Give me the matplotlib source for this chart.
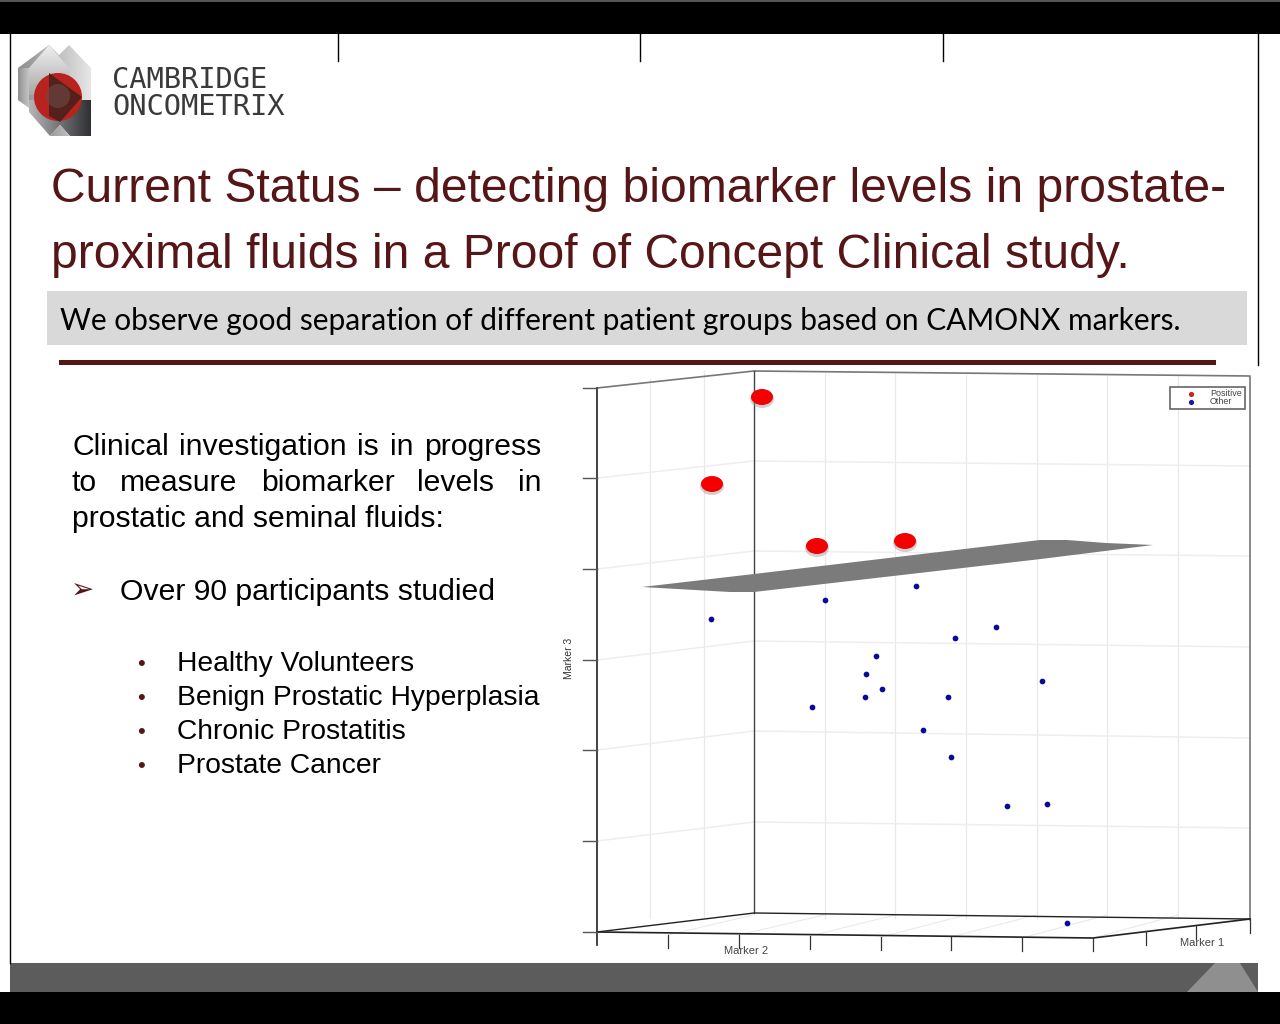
import matplotlib
matplotlib.use('Agg')
import numpy as np
import matplotlib.pyplot as plt
from matplotlib.patches import Polygon, Circle, Rectangle, Ellipse

maroon = '#561618'

title_lines = ['Current Status – detecting biomarker levels in prostate-',
               'proximal fluids in a Proof of Concept Clinical study.']
subtitle = 'We observe good separation of different patient groups based on CAMONX markers.'
intro_lines = [['Clinical', 'investigation', 'is', 'in', 'progress'],
               ['to', 'measure', 'biomarker', 'levels', 'in'],
               ['prostatic and seminal fluids:']]
bullet_main = 'Over 90 participants studied'
groups = ['Healthy Volunteers', 'Benign Prostatic Hyperplasia', 'Chronic Prostatitis', 'Prostate Cancer']

# points (pixels of the projected 3d plot)
positive_x = [762, 712, 817, 905]
positive_y = [397, 484, 546, 541]
other_x = [711, 825, 916, 955, 996, 876, 866, 882, 865, 812, 948, 1042, 923, 951, 1007, 1047, 1067]
other_y = [619, 600, 586, 638, 627, 656, 674, 689, 697, 707, 697, 681, 730, 757, 806, 804, 923]

plane_x = [642, 754, 1040, 1067, 1106, 1153, 1041, 754, 730]
plane_y = [587, 574, 540, 540, 543, 545, 559, 592, 592]

wall_x = [650, 704, 825, 895, 966, 1037, 1107, 1178]
wall_top = [379, 371, 373, 374, 375, 375, 376, 376]
z_ticks = [388, 478, 569, 660, 750, 841, 932]
z_back = [371, 461, 551, 641, 731, 822, 913]
z_right = [376, 466, 556, 647, 738, 828, 918]
front_ticks_x = [668, 739, 810, 881, 951, 1022, 1093]
front_ticks_y = [935, 935, 936, 937, 937, 938, 938]
side_ticks_x = [1146, 1196, 1250]
side_ticks_y = [931, 925, 919]

fig = plt.figure(figsize=(12.8, 10.24), dpi=100)
ax = fig.add_axes([0, 0, 1, 1])
ax.set_xlim(0, 1280)
ax.set_ylim(1024, 0)
ax.axis('off')


def shaded(points, c0, c1, horizontal=True, zorder=2):
    # polygon filled with a simple two colour gradient, for the logo
    xs = [p[0] for p in points]
    ys = [p[1] for p in points]
    c0 = np.array(matplotlib.colors.to_rgb(c0))
    c1 = np.array(matplotlib.colors.to_rgb(c1))
    t = np.linspace(0, 1, 64)
    row = np.outer(1 - t, c0) + np.outer(t, c1)
    img = row[np.newaxis, :, :] if horizontal else row[:, np.newaxis, :]
    im = ax.imshow(img, extent=[min(xs), max(xs), max(ys), min(ys)], aspect='auto', zorder=zorder)
    im.set_clip_path(Polygon(points, transform=ax.transData))


# slide frame
ax.add_patch(Rectangle((0, 0), 1280, 34, color='black', lw=0, zorder=1))
ax.add_patch(Rectangle((0, 0), 1280, 2, color='#555555', lw=0, zorder=1))
ax.add_patch(Rectangle((0, 992), 1280, 32, color='black', lw=0, zorder=1))
ax.add_patch(Rectangle((10, 963), 1248, 29, color='#5c5c5c', lw=0, zorder=1))
ax.add_patch(Polygon([[1187, 992], [1215, 963], [1240, 963], [1258, 992]], color='#8f8f8f', lw=0, zorder=1))
ax.plot([10, 10], [34, 963], color='black', lw=1)
ax.plot([1258, 1258], [34, 365], color='black', lw=1)
for x in [338, 640, 943]:
    ax.plot([x, x], [34, 61], color='black', lw=1)

# logo
shaded([[18, 68], [49, 45], [59, 55], [69, 45], [91, 68], [91, 110], [18, 100]], '#8d8d8f', '#e6e6e7')
shaded([[29, 68], [49, 45], [69, 68], [69, 95], [29, 95]], '#f0f0f0', '#a8a8aa', horizontal=False, zorder=3)
shaded([[18, 68], [29, 68], [29, 108], [18, 100]], '#909092', '#c4c4c5', zorder=3)
shaded([[29, 100], [91, 100], [91, 136], [70, 136], [60, 125], [50, 136], [29, 112]], '#b5b5b6', '#2f3033', zorder=3)
shaded([[60, 125], [70, 136], [50, 136]], '#9a9a9c', '#c0c0c1', zorder=4)
ax.add_patch(Circle((58, 97), 24, color='#b8231e', lw=0, zorder=5))
ax.add_patch(Polygon([[49, 73], [82, 97], [60, 122], [49, 116]], color='#54201c', lw=0, zorder=6))
ax.add_patch(Circle((58, 96), 12, color='#6e4a46', lw=0, alpha=0.6, zorder=7))
ax.text(112, 80, 'CAMBRIDGE', family='DejaVu Sans Mono', fontsize=20.7, color='#3a3a3a', va='center')
ax.text(112, 107, 'ONCOMETRIX', family='DejaVu Sans Mono', fontsize=20.7, color='#3a3a3a', va='center')

# title block
ax.text(51, 189, title_lines[0], family='Liberation Sans', fontsize=34.6, color=maroon, va='center')
ax.text(51, 255, title_lines[1], family='Liberation Sans', fontsize=34.6, color=maroon, va='center')
ax.add_patch(Rectangle((47, 291), 1200, 54, color='#d9d9d9', lw=0))
ax.text(60, 321, subtitle, family='Lato', fontsize=21.5, color='black', va='center')
ax.add_patch(Rectangle((59, 360), 1157, 5, color=maroon, lw=0))


# left text, first two lines justified
def justified(words, y, x0, x1):
    r = fig.canvas.get_renderer()
    items = [ax.text(x0, y, w, family='Liberation Sans', fontsize=21.7, color='black', va='center') for w in words]
    widths = [t.get_window_extent(r).width for t in items]
    gap = (x1 - x0 - sum(widths)) / (len(words) - 1)
    x = x0
    for t, w in zip(items, widths):
        t.set_x(x)
        x += w + gap


justified(intro_lines[0], 447, 72, 541)
justified(intro_lines[1], 483, 72, 541)
ax.text(72, 519, intro_lines[2][0], family='Liberation Sans', fontsize=21.7, color='black', va='center')
ax.text(83, 591, '➢', family='DejaVu Sans', fontsize=20, color=maroon, va='center', ha='center')
ax.text(120, 592, bullet_main, family='Liberation Sans', fontsize=21.7, color='black', va='center')
for g, y in zip(groups, [664, 698, 732, 766]):
    ax.text(141, y, '•', family='Liberation Sans', fontsize=16, color=maroon, va='center', ha='center')
    ax.text(177, y, g, family='Liberation Sans', fontsize=20.3, color='black', va='center')

# 3d plot panel
grid = '#e8e8e8'
for x, t in zip(wall_x, wall_top):
    ax.plot([x, x], [t, 918], color=grid, lw=0.9, zorder=2)
for zt, zb, zr in zip(z_ticks[1:-1], z_back[1:-1], z_right[1:-1]):
    ax.plot([597, 754, 1250], [zt, zb, zr], color='#eeeeee', lw=1.1, zorder=2)
for x, y in zip(front_ticks_x, front_ticks_y):
    ax.plot([x, x + 85], [y, 915], color=grid, lw=0.7, zorder=2)
ax.plot([597, 754, 1250, 1250], [388, 371, 376, 920], color='#777777', lw=1.2, zorder=3)
ax.plot([754, 754], [371, 913], color='#444444', lw=1, zorder=3)
ax.plot([597, 597], [388, 945], color='#222222', lw=1.2, zorder=3)
ax.plot([597, 754, 1250], [932, 913, 919], color='#222222', lw=1, zorder=3)
ax.plot([597, 1093, 1250], [932, 938, 919], color='#222222', lw=1.2, zorder=3)
for y in z_ticks:
    ax.plot([583, 597], [y, y], color='#555555', lw=1, zorder=3)
for x, y in zip(front_ticks_x, front_ticks_y):
    ax.plot([x, x], [y, y + 13], color='#333333', lw=0.9, zorder=3)
for x, y in zip(side_ticks_x, side_ticks_y):
    ax.plot([x, x], [y, y + 14], color='#333333', lw=0.9, zorder=3)

ax.fill(plane_x, plane_y, color='#7b7b7b', lw=0, zorder=4)
ax.scatter(other_x, other_y, s=17, color='#0a0a9a', lw=0, zorder=5)
for x, y in zip(positive_x, positive_y):
    ax.add_patch(Ellipse((x, y + 2), 24, 18, color='#999999', alpha=0.45, lw=0, zorder=5))
    ax.add_patch(Ellipse((x, y), 22, 16, color='#f40000', lw=0, zorder=6))

ax.text(569, 658, 'Marker 3', family='Liberation Sans', fontsize=7.5, color='#333333', rotation=90, va='center', ha='center')
ax.text(746, 951, 'Marker 2', family='Liberation Sans', fontsize=8, color='#444444', va='center', ha='center')
ax.text(1202, 943, 'Marker 1', family='Liberation Sans', fontsize=8, color='#444444', va='center', ha='center')

# legend
ax.add_patch(Rectangle((1170, 387), 75, 22, fc='white', ec='#666666', lw=1.2, zorder=6))
ax.scatter([1191], [393.5], s=14, color='#d02020', lw=0, zorder=7)
ax.scatter([1191], [402], s=14, color='#1515b0', lw=0, zorder=7)
ax.text(1210, 393, 'Positive', family='Liberation Sans', fontsize=6.5, color='#444444', va='center', zorder=7)
ax.text(1210, 402, 'Other', family='Liberation Sans', fontsize=6.5, color='#444444', va='center', zorder=7)

ax.set_xlim(0, 1280)
ax.set_ylim(1024, 0)
fig.savefig('out.png', dpi=100)
